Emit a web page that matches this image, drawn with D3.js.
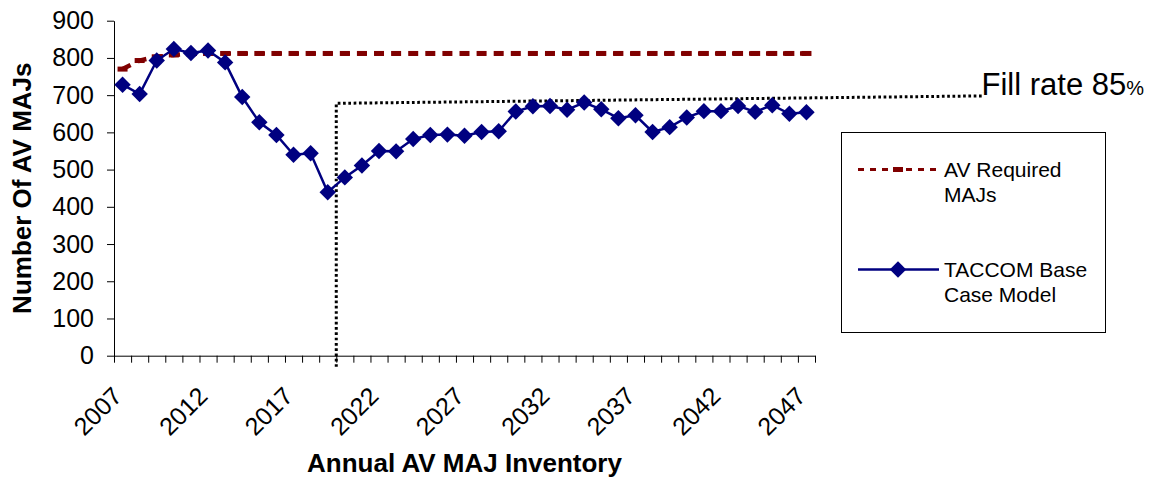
<!DOCTYPE html>
<html>
<head>
<meta charset="utf-8">
<script src="https://cdn.jsdelivr.net/npm/d3@7"></script>
<style>
  body { margin: 0; background: #fff; }
  svg { font-family: "Liberation Sans", Arial, sans-serif; }
</style>
</head>
<body>
<div id="chart"></div>
<script>
// categories (years) and series values
const years = [2007, 2008, 2009, 2010, 2011, 2012, 2013, 2014, 2015, 2016,
               2017, 2018, 2019, 2020, 2021, 2022, 2023, 2024, 2025, 2026,
               2027, 2028, 2029, 2030, 2031, 2032, 2033, 2034, 2035, 2036,
               2037, 2038, 2039, 2040, 2041, 2042, 2043, 2044, 2045, 2046, 2047];
const requiredMajs = [770, 793, 803, 808, 811, 812, 812, 812, 812, 812,
                      812, 812, 812, 812, 812, 812, 812, 812, 812, 812,
                      812, 812, 812, 812, 812, 812, 812, 812, 812, 812,
                      812, 812, 812, 812, 812, 812, 812, 812, 812, 812, 812];
const baseCase = [728, 703, 793, 824, 813, 820, 788, 695, 627, 593,
                  540, 544, 439, 479, 511, 550, 549, 582, 593, 594,
                  591, 601, 603, 656, 670, 671, 661, 680, 662, 638,
                  646, 601, 614, 640, 657, 657, 671, 655, 673, 650, 654];
const yTicks = [0, 100, 200, 300, 400, 500, 600, 700, 800, 900];
const xTickLabels = [2007, 2012, 2017, 2022, 2027, 2032, 2037, 2042, 2047];
// fill-rate annotation: x in category slots, y in MAJs
const fillRateX = [13, 13, 50.8];
const fillRateY = [-30, 678, 698];

const width = 1159;
const height = 487;
const plot = { left: 114, right: 815, top: 20.7, bottom: 355.7 };

const svg = d3.select('#chart')
    .append('svg')
    .attr('width', width)
    .attr('height', height);

const x = d3.scaleBand()
    .domain(years)
    .range([plot.left, plot.right])
    .padding(0);

const xSlot = d3.scaleLinear()
    .domain([0, years.length])
    .range([plot.left, plot.right]);

const y = d3.scaleLinear()
    .domain([0, 900])
    .range([plot.bottom, plot.top]);

const cx = d => x(d) + x.bandwidth() / 2;

// axes
const yAxis = svg.append('g')
    .attr('transform', `translate(${plot.left},0)`)
    .call(d3.axisLeft(y).tickValues(yTicks).tickSize(7).tickSizeOuter(0).tickPadding(13));
yAxis.selectAll('text').attr('font-size', 25).attr('fill', '#000').attr('font-family', null);
yAxis.selectAll('line, path').attr('stroke', '#000');

const xAxis = svg.append('g')
    .attr('transform', `translate(0,${plot.bottom})`)
    .call(d3.axisBottom(xSlot).tickValues(d3.range(0, years.length + 1)).tickFormat('').tickSize(7).tickSizeOuter(0));
xAxis.selectAll('line, path').attr('stroke', '#000');

svg.append('g')
    .selectAll('text')
    .data(xTickLabels)
    .enter()
    .append('text')
    .attr('transform', d => `translate(${cx(d) + 1},${plot.bottom + 42}) rotate(-45)`)
    .attr('text-anchor', 'end')
    .attr('font-size', 25)
    .text(d => d);

// axis titles
svg.append('text')
    .attr('transform', `translate(31,${(plot.top + plot.bottom) / 2}) rotate(-90)`)
    .attr('text-anchor', 'middle')
    .attr('font-size', 26)
    .attr('font-weight', 'bold')
    .text('Number Of AV MAJs');

svg.append('text')
    .attr('x', (plot.left + plot.right) / 2)
    .attr('y', 472)
    .attr('text-anchor', 'middle')
    .attr('font-size', 26)
    .attr('font-weight', 'bold')
    .text('Annual AV MAJ Inventory');

// fill rate annotation
const fillLine = d3.line()
    .x(d => xSlot(d[0]))
    .y(d => y(d[1]));
svg.append('path')
    .attr('d', fillLine(fillRateX.map((v, i) => [v, fillRateY[i]])))
    .attr('fill', 'none')
    .attr('stroke', '#000')
    .attr('stroke-width', 3)
    .attr('stroke-dasharray', '2.7,2.6');

const fillText = svg.append('text')
    .attr('x', xSlot(fillRateX[2]) - 1)
    .attr('y', y(fillRateY[2]) - 1)
    .attr('font-size', 31)
    .text('Fill rate 85');
fillText.append('tspan').attr('font-size', 20).text('%');

// required MAJs - dashed dark red with dash markers
const line = d3.line()
    .x((d, i) => cx(years[i]))
    .y(d => y(d));

svg.append('path')
    .attr('d', line(requiredMajs))
    .attr('fill', 'none')
    .attr('stroke', '#800000')
    .attr('stroke-width', 4.5)
    .attr('stroke-dasharray', '9,8');

svg.append('g')
    .selectAll('rect')
    .data(requiredMajs)
    .enter()
    .append('rect')
    .attr('x', (d, i) => cx(years[i]) - 5)
    .attr('y', d => y(d) - 2.5)
    .attr('width', 10)
    .attr('height', 5)
    .attr('fill', '#800000');

// base case model - navy line with diamonds
svg.append('path')
    .attr('d', line(baseCase))
    .attr('fill', 'none')
    .attr('stroke', '#000080')
    .attr('stroke-width', 2.5);

const diamond = d3.symbol().type(d3.symbolSquare).size(135);
svg.append('g')
    .selectAll('path')
    .data(baseCase)
    .enter()
    .append('path')
    .attr('d', diamond)
    .attr('transform', (d, i) => `translate(${cx(years[i])},${y(d)}) rotate(45)`)
    .attr('fill', '#000080');

// legend
const legend = svg.append('g');
legend.append('rect')
    .attr('x', 841.5)
    .attr('y', 132.5)
    .attr('width', 264)
    .attr('height', 200)
    .attr('fill', '#fff')
    .attr('stroke', '#000')
    .attr('stroke-width', 1);

legend.append('line')
    .attr('x1', 858).attr('x2', 939)
    .attr('y1', 169.5).attr('y2', 169.5)
    .attr('stroke', '#800000')
    .attr('stroke-width', 3)
    .attr('stroke-dasharray', '6,6');
legend.append('rect')
    .attr('x', 893).attr('y', 167)
    .attr('width', 10).attr('height', 5)
    .attr('fill', '#800000');

legend.append('line')
    .attr('x1', 858).attr('x2', 939)
    .attr('y1', 269.5).attr('y2', 269.5)
    .attr('stroke', '#000080')
    .attr('stroke-width', 2.5);
legend.append('path')
    .attr('d', diamond)
    .attr('transform', 'translate(898,269.5) rotate(45)')
    .attr('fill', '#000080');

const legendLabels = [['AV Required', 'MAJs'], ['TACCOM Base', 'Case Model']];
legendLabels.forEach((lines, k) => {
    const t = legend.append('text')
        .attr('x', 944)
        .attr('y', 177 + k * 100)
        .attr('font-size', 21);
    lines.forEach((s, j) => {
        t.append('tspan')
            .attr('x', 944)
            .attr('dy', j === 0 ? 0 : 25)
            .text(s);
    });
});
</script>
</body>
</html>
